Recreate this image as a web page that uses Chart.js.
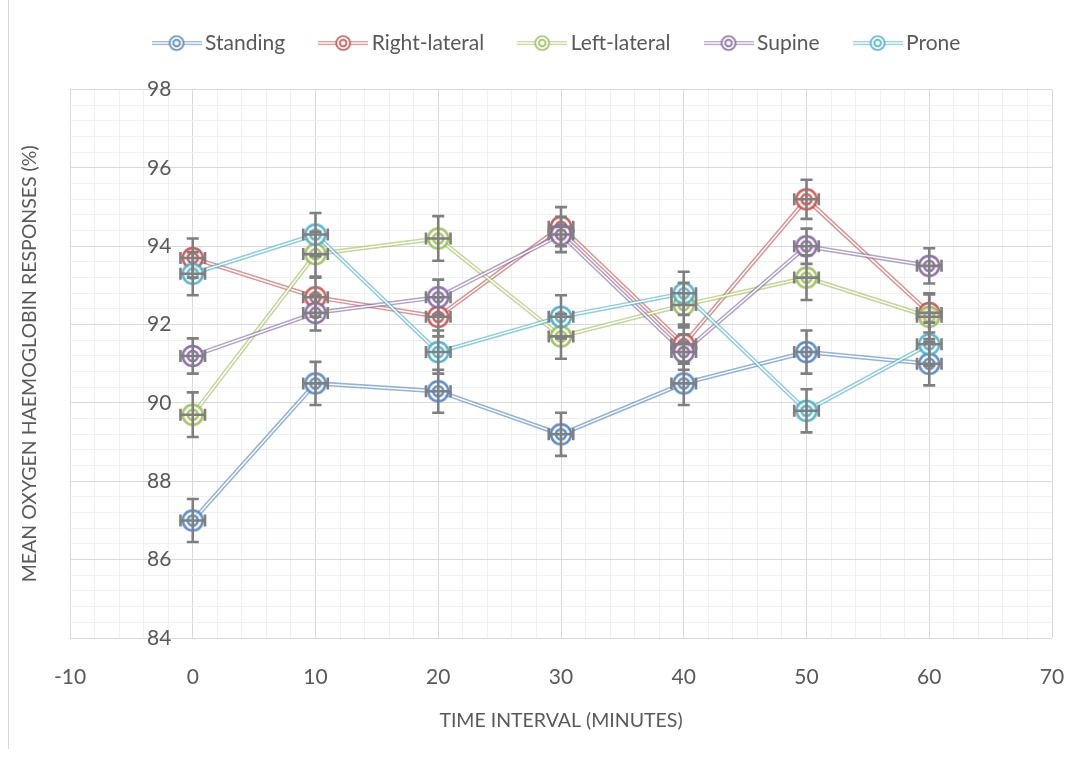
<!DOCTYPE html>
<html>
<head>
<meta charset="utf-8">
<script src="https://cdn.jsdelivr.net/npm/chart.js@4.4.1/dist/chart.umd.min.js"></script>
<style>
  html, body { margin: 0; padding: 0; background: #ffffff; }
  #wrap { width: 1086px; height: 764px; position: relative; }
</style>
</head>
<body>
<div id="wrap"><canvas id="chart" width="1086" height="764"></canvas></div>
<script>
// ---- data ----
const timeMinutes = [0, 10, 20, 30, 40, 50, 60];
const seriesNames = ['Standing', 'Right-lateral', 'Left-lateral', 'Supine', 'Prone'];
const standing     = [87.0, 90.5, 90.3, 89.2, 90.5, 91.3, 91.0];
const rightLateral = [93.7, 92.7, 92.2, 94.5, 91.5, 95.2, 92.3];
const leftLateral  = [89.7, 93.8, 94.2, 91.7, 92.5, 93.2, 92.2];
const supine       = [91.2, 92.3, 92.7, 94.3, 91.3, 94.0, 93.5];
const prone        = [93.3, 94.3, 91.3, 92.2, 92.8, 89.8, 91.5];
// error bar half-widths (per series, in % units) and horizontal half-width (minutes)
const yErrors = [0.55, 0.5, 0.57, 0.45, 0.55];
const xError = 1;
const xTickLabels = [-10, 0, 10, 20, 30, 40, 50, 60, 70];
const yTickLabels = [84, 86, 88, 90, 92, 94, 96, 98];

// ---- styling ----
const seriesValues = [standing, rightLateral, leftLateral, supine, prone];
const seriesColors = ['#4F81BD', '#C0504D', '#9BBB59', '#8064A2', '#4BACC6'];
const textColor = '#595959';
const fontFamily = 'Lato, "Open Sans", sans-serif';

function rgba(hex, a) {
  const n = parseInt(hex.slice(1), 16);
  return `rgba(${(n >> 16) & 255},${(n >> 8) & 255},${n & 255},${a})`;
}

// double-ring marker image
function ringMarker(color, outer, inner, lw) {
  const size = Math.ceil((outer + lw) * 2) + 2;
  const c = document.createElement('canvas');
  c.width = c.height = size;
  const g = c.getContext('2d');
  const m = size / 2;
  g.fillStyle = 'rgba(255,255,255,0.75)';
  g.beginPath(); g.arc(m, m, outer, 0, Math.PI * 2); g.fill();
  g.strokeStyle = rgba(color, 0.9);
  g.lineWidth = lw;
  g.beginPath(); g.arc(m, m, outer, 0, Math.PI * 2); g.stroke();
  g.beginPath(); g.arc(m, m, inner, 0, Math.PI * 2); g.stroke();
  return c;
}

// legend symbol: double line with a small double-ring marker
function legendSymbol(color) {
  const w = 50, h = 22;
  const c = document.createElement('canvas');
  c.width = w; c.height = h;
  const g = c.getContext('2d');
  g.strokeStyle = rgba(color, 0.6); g.lineWidth = 4;
  g.beginPath(); g.moveTo(0, h / 2); g.lineTo(w, h / 2); g.stroke();
  g.strokeStyle = '#ffffff'; g.lineWidth = 1.4;
  g.beginPath(); g.moveTo(0, h / 2); g.lineTo(w, h / 2); g.stroke();
  const mk = ringMarker(color, 7, 3.3, 1.7);
  g.drawImage(mk, w / 2 - mk.width / 2, h / 2 - mk.height / 2);
  return c;
}

const markers = seriesColors.map(c => ringMarker(c, 10, 5, 2.6));
const legendSymbols = seriesColors.map(c => legendSymbol(c));

const datasets = [];
seriesValues.forEach((vals, s) => {
  const pts = timeMinutes.map((t, i) => ({ x: t, y: vals[i] }));
  // outer coloured stroke of the double line
  datasets.push({ label: seriesNames[s], data: pts, showLine: true,
    borderColor: rgba(seriesColors[s], 0.6), borderWidth: 4.4,
    pointRadius: 0, pointHoverRadius: 0, order: 1000 - 10 * s });
  // white core that splits it into two thin lines
  datasets.push({ label: seriesNames[s] + ' core', data: pts, showLine: true,
    borderColor: '#ffffff', borderWidth: 1.4,
    pointRadius: 0, pointHoverRadius: 0, order: 1000 - 10 * s - 1 });
  // markers
  datasets.push({ label: seriesNames[s] + ' markers', data: pts, showLine: false,
    pointStyle: markers[s], pointRadius: 10, pointHoverRadius: 10, order: 100 - s });
});

function range(a, b, step) {
  const out = [];
  const n = Math.round((b - a) / step);
  for (let k = 0; k <= n; k++) out.push(+(a + k * step).toFixed(4));
  return out;
}
const isMajorX = v => Math.abs(v / 10 - Math.round(v / 10)) < 1e-6;
const isMajorY = v => Math.abs(v / 2 - Math.round(v / 2)) < 1e-6;

// error bars drawn over the markers
const errorBars = {
  id: 'errorBars',
  afterDatasetsDraw(chart) {
    const { ctx } = chart;
    const xs = chart.scales.x, ys = chart.scales.y;
    const cap = 6;
    ctx.save();
    ctx.strokeStyle = '#7f7f7f';
    ctx.lineWidth = 2.6;
    seriesValues.forEach((vals, s) => {
      vals.forEach((v, i) => {
        const px = xs.getPixelForValue(timeMinutes[i]);
        const py = ys.getPixelForValue(v);
        const top = ys.getPixelForValue(v + yErrors[s]);
        const bot = ys.getPixelForValue(v - yErrors[s]);
        const l = xs.getPixelForValue(timeMinutes[i] - xError);
        const r = xs.getPixelForValue(timeMinutes[i] + xError);
        ctx.beginPath();
        ctx.moveTo(px, top); ctx.lineTo(px, bot);
        ctx.moveTo(px - cap, top); ctx.lineTo(px + cap, top);
        ctx.moveTo(px - cap, bot); ctx.lineTo(px + cap, bot);
        ctx.moveTo(l, py); ctx.lineTo(r, py);
        ctx.moveTo(l, py - cap); ctx.lineTo(l, py + cap);
        ctx.moveTo(r, py - cap); ctx.lineTo(r, py + cap);
        ctx.stroke();
      });
    });
    ctx.restore();
  }
};

// legend placement: extra room below it and a small offset of the item row
const legendPlacement = {
  id: 'legendPlacement',
  beforeLayout(chart) {
    const lg = chart.legend;
    if (lg && !lg._placed) {
      const fit = lg.fit;
      lg.fit = function () { fit.call(this); this.height += 15; };
      const draw = lg.draw;
      lg.draw = function () {
        const ctx = this.ctx;
        ctx.save();
        ctx.translate(33.5, -11);
        draw.call(this);
        ctx.restore();
      };
      lg._placed = true;
    }
  }
};

// outer frame line of the chart
const frame = {
  id: 'frame',
  beforeDraw(chart) {
    const { ctx } = chart;
    ctx.save();
    ctx.strokeStyle = '#d9d9d9';
    ctx.lineWidth = 1;
    ctx.beginPath();
    ctx.moveTo(8.5, 0); ctx.lineTo(8.5, 749);
    ctx.stroke();
    ctx.restore();
  }
};

new Chart(document.getElementById('chart'), {
  type: 'scatter',
  data: { datasets },
  plugins: [errorBars, legendPlacement, frame],
  options: {
    responsive: false,
    animation: false,
    devicePixelRatio: 1,
    layout: { padding: { top: 2, left: 0, right: 34, bottom: 0 } },
    plugins: {
      tooltip: { enabled: false },
      legend: {
        position: 'top',
        labels: {
          usePointStyle: true,
          pointStyleWidth: 36,
          padding: 40,
          color: textColor,
          font: { family: fontFamily, size: 21 },
          generateLabels: () => seriesNames.map((name, s) => ({
            text: name,
            pointStyle: legendSymbols[s],
            fillStyle: seriesColors[s],
            strokeStyle: seriesColors[s],
            lineWidth: 0,
            fontColor: textColor,
            hidden: false,
            datasetIndex: s * 3 + 2
          }))
        }
      }
    },
    scales: {
      x: {
        type: 'linear', position: 'bottom', min: -10, max: 70,
        afterBuildTicks: sc => { sc.ticks = range(-10, 70, 2).map(v => ({ value: v })); },
        afterFit: sc => { sc.height = 126; },
        // tall line box pushes the labels down without widening the side padding
        ticks: {
          autoSkip: false, maxRotation: 0, padding: 2, color: textColor,
          font: { family: fontFamily, size: 21, lineHeight: '74px' },
          callback: v => (xTickLabels.includes(v) ? String(v) : '')
        },
        grid: { drawTicks: false, lineWidth: 1,
          color: c => (c.tick && isMajorX(c.tick.value) ? '#d9d9d9' : '#f0f0f0') },
        border: { display: false },
        title: { display: true, text: 'TIME INTERVAL (MINUTES)', color: textColor,
          font: { family: fontFamily, size: 19.5 }, padding: { top: 0, bottom: 32 } }
      },
      y: {
        type: 'linear', position: 'left', min: 84, max: 98,
        afterBuildTicks: sc => { sc.ticks = range(84, 98, 0.4).map(v => ({ value: v })); },
        afterFit: sc => { sc.width = 70; },
        // tick labels sit inside the plot, right-aligned just left of x = 0
        ticks: {
          autoSkip: false, mirror: true, crossAlign: 'far', padding: 77,
          color: textColor, font: { family: fontFamily, size: 21 },
          callback: v => (yTickLabels.some(t => Math.abs(t - v) < 1e-6) ? String(Math.round(v)) : '')
        },
        grid: { drawTicks: false, lineWidth: 1,
          color: c => (c.tick && isMajorY(c.tick.value) ? '#d9d9d9' : '#f0f0f0') },
        border: { display: false },
        title: { display: true, text: 'MEAN OXYGEN HAEMOGLOBIN RESPONSES (%)', color: textColor,
          font: { family: fontFamily, size: 19.5 }, padding: { top: 18, bottom: 0 } }
      }
    }
  }
});
</script>
</body>
</html>
